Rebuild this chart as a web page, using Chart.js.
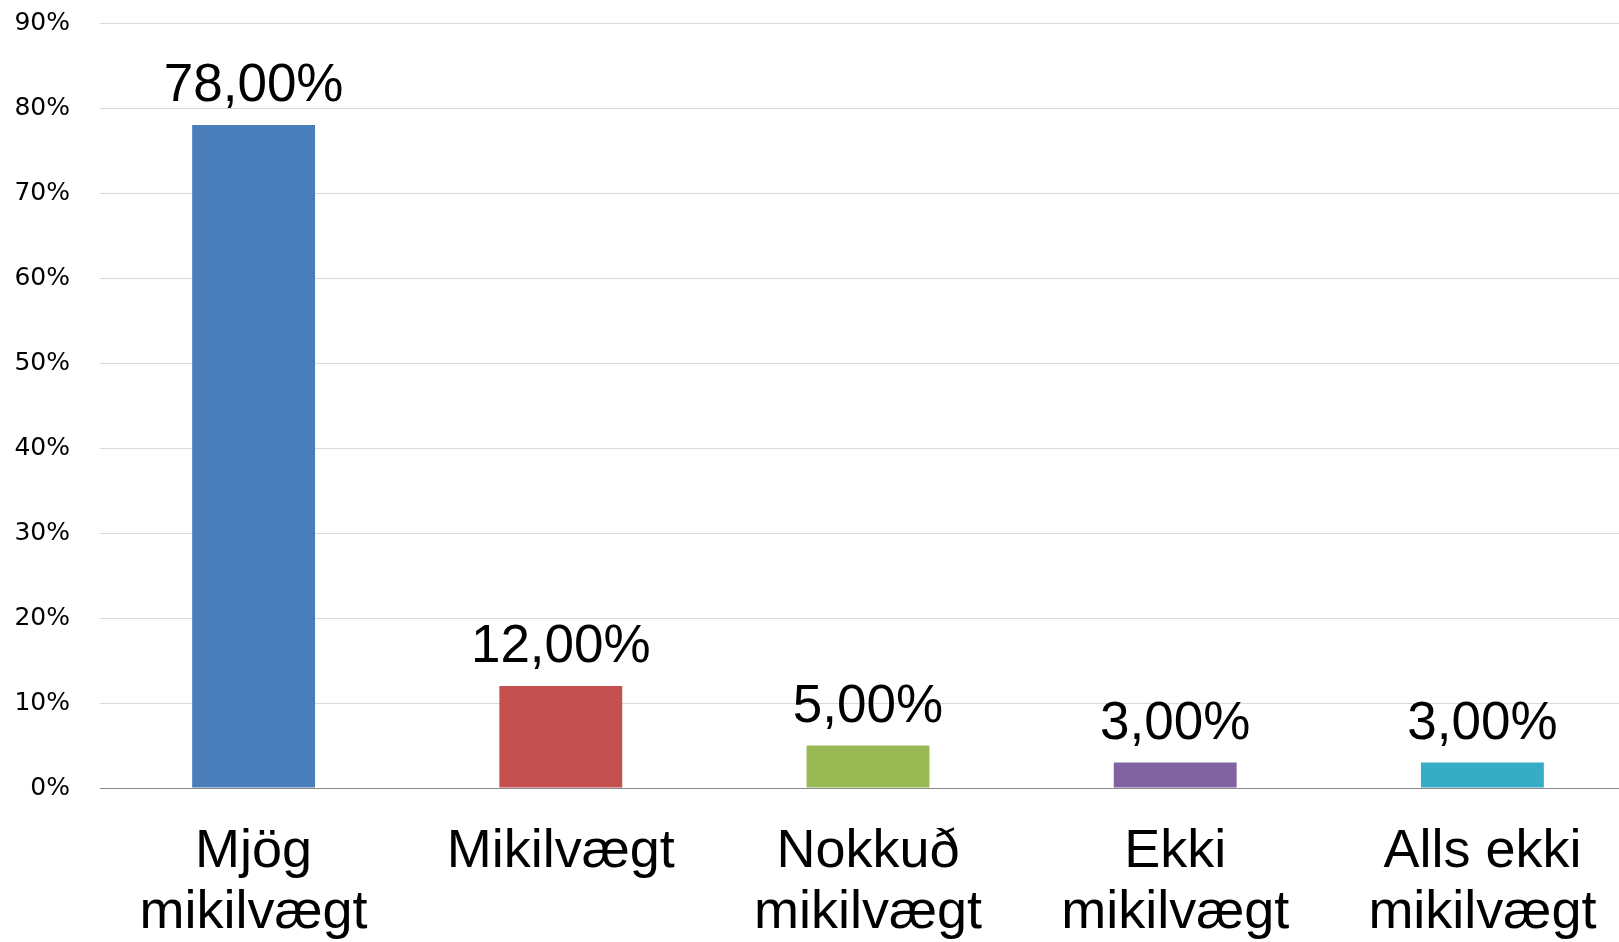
<!DOCTYPE html>
<html>
<head>
<meta charset="utf-8">
<script src="https://cdn.jsdelivr.net/npm/chart.js@4"></script>
<style>
html,body{margin:0;padding:0;background:#fff;overflow:hidden;}
#wrap{position:relative;width:1636px;height:942px;}
</style>
</head>
<body>
<div id="wrap"><canvas id="c"></canvas></div>
<script>
const categories = [["Mjög","mikilvægt"],["Mikilvægt"],["Nokkuð","mikilvægt"],["Ekki","mikilvægt"],["Alls ekki","mikilvægt"]];
const values = [78, 12, 5, 3, 3];
const valueLabels = ["78,00%","12,00%","5,00%","3,00%","3,00%"];
const barColors = ["#4A7EBB","#C4504F","#98B954","#8064A2","#37ACC5"];
const yMax = 90;
const yStep = 10;

const labelPlugin = {
  id: 'valueLabels',
  afterDatasetsDraw(chart) {
    const ctx = chart.ctx;
    const meta = chart.getDatasetMeta(0);
    ctx.save();
    ctx.font = '53px "Liberation Sans", Arial, sans-serif';
    ctx.fillStyle = '#000';
    ctx.textAlign = 'center';
    ctx.textBaseline = 'alphabetic';
    meta.data.forEach((bar, i) => {
      ctx.fillText(valueLabels[i], bar.x, bar.y - 24);
    });
    ctx.restore();
  }
};

new Chart(document.getElementById('c'), {
  type: 'bar',
  data: {
    labels: categories,
    datasets: [{
      data: values,
      backgroundColor: barColors,
      borderWidth: 0,
      barPercentage: 0.4,
      categoryPercentage: 1.0
    }]
  },
  options: {
    responsive: true,
    maintainAspectRatio: false,
    animation: false,
    layout: { padding: { top: 23, left: 0, right: 0, bottom: 0 } },
    plugins: { legend: { display: false }, tooltip: { enabled: false } },
    scales: {
      x: {
        grid: { display: false, drawTicks: false },
        border: { display: true, color: '#888888', width: 1 },
        ticks: {
          color: '#000',
          font: { family: '"Liberation Sans", Arial, sans-serif', size: 54, lineHeight: 1.12 },
          padding: 34,
          maxRotation: 0,
          autoSkip: false
        },
        afterFit(s) { s.height = 154; s.paddingLeft = 0; s.paddingRight = 0; }
      },
      y: {
        min: 0,
        max: yMax,
        grid: { color: '#D9D9D9', lineWidth: 1, drawTicks: false },
        border: { display: false },
        ticks: {
          stepSize: yStep,
          color: '#000',
          padding: 30,
          font: { family: '"DejaVu Sans", sans-serif', size: 25 },
          callback: v => v + '%'
        },
        afterFit(s) { s.width = 100; s.paddingTop = 0; s.paddingBottom = 0; }
      }
    }
  },
  plugins: [labelPlugin]
});
</script>
</body>
</html>
